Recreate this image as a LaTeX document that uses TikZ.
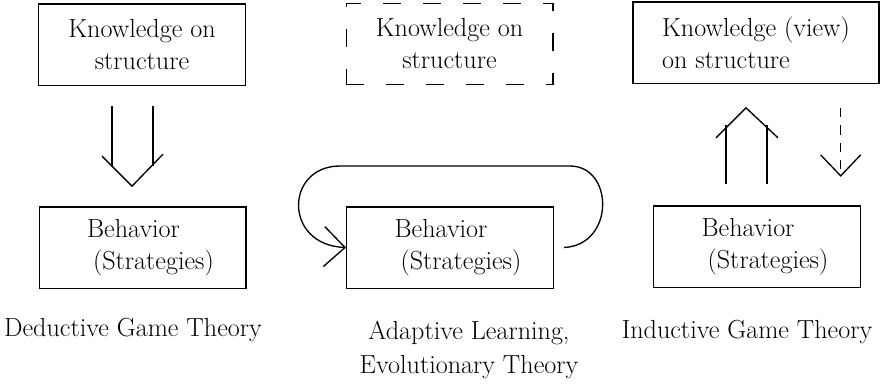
\documentclass[tikz,border=0pt]{standalone}
\usetikzlibrary{arrows.meta,calc}

\tikzset{every picture/.style={line width=1pt}}
\tikzset{
  box/.style={draw, line width=1pt, minimum width=155pt, minimum height=61pt, inner sep=0pt, font=\fontsize{19.6}{24}\selectfont},
  dashbox/.style={box, dash pattern=on 13.5pt off 16.5pt},
  caption/.style={inner sep=0pt, align=center, font=\fontsize{19.6}{25.5}\selectfont},
  barb/.style={-{Straight Barb[length=15.75pt,width=30pt]}},
  dasharrow/.style={barb, dash pattern=on 7pt off 6pt}
}

\begin{document}
\begin{tikzpicture}[x=0.75pt,y=0.75pt,yscale=-1,xscale=1]
\useasboundingbox (0,0) rectangle (880,386); %set diagram size 880 x 386

%Shape: Rectangle [knowledge boxes]
\draw (142,44.5) node [box, align=center] (know1) {Knowledge on\\structure};
\draw (449.5,44) node [dashbox, align=center] (know2) {Knowledge on\\structure};
\draw (756,42.5) node [box, minimum width=184.5pt, align=left] (know3) {Knowledge (view)\\on structure};

%Shape: Rectangle [behavior boxes]
\draw (142.5,247.5) node [box, align=left] (beh1) {\hspace*{12pt}Behavior\\\hspace*{16.5pt}(Strategies)};
\draw (450,247.5) node [box, align=left] (beh2) {\hspace*{12pt}Behavior\\\hspace*{16.5pt}(Strategies)};
\draw (757,246.5) node [box, align=left] (beh3) {\hspace*{12pt}Behavior\\\hspace*{16.5pt}(Strategies)};

%Hollow Arrow [deductive]
\draw ($(know1.south)+(-30,20)$) -- ++(0,61) ;
\draw ($(know1.south)+(11,20)$) -- ++(0,60) ;
\draw ($(beh1.north)+(-40.5,-50)$) -- ($(beh1.north)+(-10.5,-20)$) -- ($(beh1.north)+(20.5,-52)$) ;

%Curve Lines [adaptive loop]
\draw [barb] ($(beh2.east)+(10,0)$) .. controls (615,245) and (614,166) .. (570,166) -- (340,166) .. controls (285,166) and (283,245) .. (beh2.west) ;

%Hollow Arrow [inductive]
\draw ($(beh3.north)+(-31,-21)$) -- ++(0,-59) ;
\draw ($(beh3.north)+(10,-21)$) -- ++(0,-59) ;
\draw ($(know3.south)+(-40,54)$) -- ($(know3.south)+(-10,24)$) -- ($(know3.south)+(22,54)$) ;
%Dashed Arrow
\draw [dasharrow] ($(know3.south east)+(-39,24)$) -- ($(know3.south east)+(-39,93)$) ;

% Text Node
\draw (133,330) node [caption] (lab1) {Deductive Game Theory};
% Text Node
\draw (469,350) node [caption] (lab2) {Adaptive Learning,\\Evolutionary Theory};
% Text Node
\draw (747,332) node [caption] (lab3) {Inductive Game Theory};

\end{tikzpicture}
\end{document}
